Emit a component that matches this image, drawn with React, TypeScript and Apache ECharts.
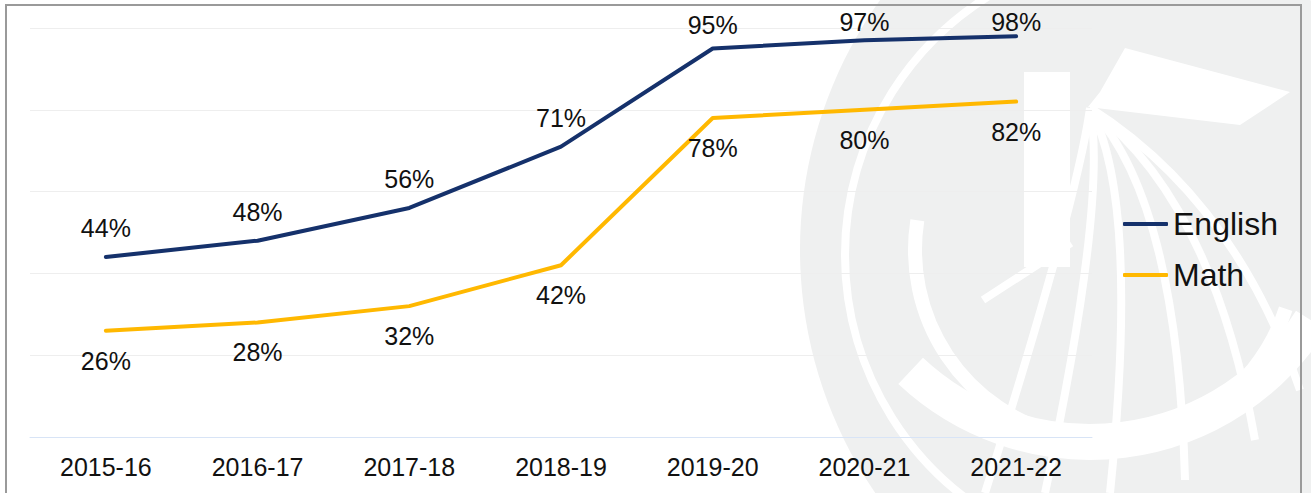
import React, { useEffect, useRef } from "react";
import * as echarts from "echarts";

const categories = ["2015-16", "2016-17", "2017-18", "2018-19", "2019-20", "2020-21", "2021-22"];
const englishValues = [44, 48, 56, 71, 95, 97, 98];
const mathValues = [26, 28, 32, 42, 78, 80, 82];
const seriesNames = ["English", "Math"];

const FONT = "'Liberation Sans', Arial, sans-serif";
const WM = "#eff0f0";

function watermark(): any[] {
  const z = -10;
  const white = "#ffffff";
  const els: any[] = [
    { type: "circle", shape: { cx: 1230, cy: 250, r: 430 }, style: { fill: WM }, z, silent: true },
    { type: "circle", shape: { cx: 1150, cy: 255, r: 305 }, style: { fill: "none", stroke: white, lineWidth: 8 }, z: z + 1, silent: true },
    { type: "arc", shape: { cx: 1105, cy: 250, r: 190, startAngle: Math.PI * 1.05, endAngle: Math.PI * 0.1, clockwise: false }, style: { fill: "none", stroke: white, lineWidth: 14 }, z: z + 1, silent: true },
    { type: "arc", shape: { cx: 1090, cy: 180, r: 262, startAngle: Math.PI * 0.18, endAngle: Math.PI * 0.74, clockwise: true }, style: { fill: "none", stroke: white, lineWidth: 36 }, z: z + 1, silent: true },
    { type: "rect", shape: { x: 1024, y: 72, width: 46, height: 195 }, style: { fill: white }, z: z + 1, silent: true },
    { type: "line", shape: { x1: 983, y1: 300, x2: 1071, y2: 243 }, style: { stroke: white, lineWidth: 8 }, z: z + 1, silent: true },
    { type: "polygon", shape: { points: [[1125, 48], [1290, 92], [1240, 125], [1088, 107], [1100, 92]] }, style: { fill: white }, z: z + 1, silent: true },
  ];
  const ends = [[985, 493], [1045, 493], [1110, 493], [1185, 480], [1255, 440], [1300, 390]];
  ends.forEach(([ex, ey]) => {
    els.push({
      type: "bezierCurve",
      shape: { x1: 1090, y1: 108, cpx1: (1090 + ex) / 2 + 40, cpy1: 200, x2: ex, y2: ey },
      style: { fill: "none", stroke: white, lineWidth: 8 },
      z: z + 1,
      silent: true,
    });
  });
  return els;
}

export default function App() {
  const ref = useRef<HTMLDivElement>(null);
  useEffect(() => {
    if (!ref.current) return;
    const chart = echarts.init(ref.current, undefined, { renderer: "svg" });
    const englishTopDistance = [16, 16, 16, 16, 10, 5, 1];
    const option: any = {
      animation: false,
      backgroundColor: "#ffffff",
      textStyle: { fontFamily: FONT },
      grid: { left: 30, right: 219, top: 28, bottom: 56, containLabel: false },
      legend: {
        data: seriesNames,
        orient: "vertical",
        left: 1118,
        top: 203,
        itemWidth: 45,
        itemHeight: 4,
        itemGap: 19,
        icon: "roundRect",
        textStyle: { fontSize: 32, color: "#111111", fontFamily: FONT },
      },
      xAxis: {
        type: "category",
        data: categories,
        boundaryGap: true,
        axisLine: { show: true, lineStyle: { color: "#d8e4f6", width: 1 } },
        axisTick: { show: false },
        axisLabel: { fontSize: 25, color: "#111111", margin: 17, fontFamily: FONT },
        splitLine: { show: false },
      },
      yAxis: {
        type: "value",
        min: 0,
        max: 100,
        interval: 20,
        axisLine: { show: false },
        axisTick: { show: false },
        axisLabel: { show: false },
        splitLine: { show: true, lineStyle: { color: "#eeeeee", width: 1 } },
      },
      series: [
        {
          name: seriesNames[0],
          type: "line",
          data: englishValues.map((v, i) => ({ value: v, label: { distance: englishTopDistance[i] } })),
          symbol: "circle",
          symbolSize: 1,
          showSymbol: true,
          itemStyle: { color: "#15316b" },
          lineStyle: { color: "#15316b", width: 4, cap: "round", join: "round" },
          label: { show: true, position: "top", distance: 16, formatter: "{c}%", fontSize: 25, color: "#111111", fontFamily: FONT },
          z: 3,
        },
        {
          name: seriesNames[1],
          type: "line",
          data: mathValues,
          symbol: "circle",
          symbolSize: 1,
          showSymbol: true,
          itemStyle: { color: "#ffb800" },
          lineStyle: { color: "#ffb800", width: 4, cap: "round", join: "round" },
          label: { show: true, position: "bottom", distance: 17, formatter: "{c}%", fontSize: 25, color: "#111111", fontFamily: FONT },
          z: 3,
        },
      ],
      graphic: [
        ...watermark(),
        {
          type: "rect",
          shape: { x: 6, y: 5, width: 1295, height: 520 },
          style: { fill: "none", stroke: "#9a9a9a", lineWidth: 2 },
          z: 50,
          silent: true,
        },
      ],
    };
    chart.setOption(option);
    return () => chart.dispose();
  }, []);
  return (
    <div
      ref={ref}
      style={{ position: "fixed", left: 0, top: 0, width: 1311, height: 493, background: "#fff" }}
    />
  );
}
